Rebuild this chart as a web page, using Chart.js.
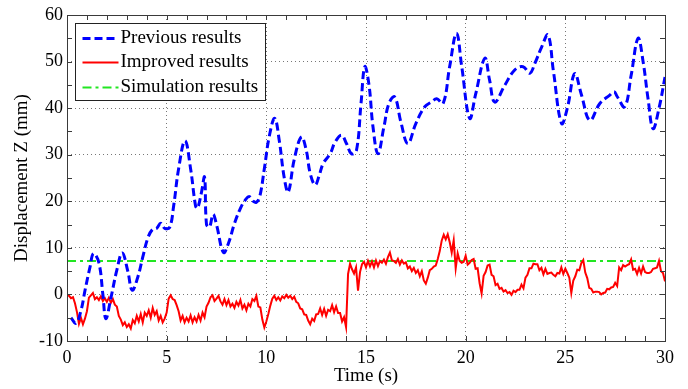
<!DOCTYPE html>
<html>
<head>
<meta charset="utf-8">
<script src="https://cdn.jsdelivr.net/npm/chart.js@4.4.1/dist/chart.umd.min.js"></script>
<style>
  html, body { margin: 0; padding: 0; background: #fff; }
  #wrap { position: relative; width: 688px; height: 389px; }
</style>
</head>
<body>
<div id="wrap"><canvas id="c"></canvas></div>
<script>
// ---------- data ----------
const seriesNames = ['Previous results', 'Improved results', 'Simulation results'];
const xTicksMinMax = [0, 30];
const yTicksMinMax = [-10, 60];

const previousTime = [0.2, 0.45, 0.7, 0.9, 1.15, 1.33, 1.6, 1.8, 1.95, 2.2, 2.5, 2.77, 3.05, 3.27, 3.55, 3.8, 4.07, 4.3, 4.5, 4.7, 4.9, 5.15, 5.35, 5.6, 5.92, 6.2, 6.45, 6.55, 6.75, 6.9, 7.0, 7.15, 7.33, 7.5, 7.85, 8.1, 8.4, 8.7, 8.95, 9.15, 9.35, 9.5, 9.67, 9.9, 10.15, 10.42, 10.65, 10.9, 11.1, 11.4, 11.76, 12.0, 12.2, 12.45, 12.65, 12.85, 13.2, 13.45, 13.77, 14.02, 14.27, 14.52, 14.75, 14.94, 15.15, 15.35, 15.6, 15.9, 16.15, 16.44, 16.75, 17.1, 17.5, 17.95, 18.28, 18.55, 18.87, 19.2, 19.54, 19.8, 20.2, 20.5, 20.96, 21.2, 21.46, 21.96, 22.46, 22.88, 23.22, 23.47, 23.8, 24.13, 24.4, 24.81, 25.1, 25.47, 25.8, 26.23, 26.73, 27.23, 27.45, 27.6, 27.98, 28.3, 28.65, 28.9, 29.15, 29.4, 29.7, 30.0];
const previousValue = [-5.0, -6.2, -3.5, 0.8, 5.8, 8.8, 6.8, 0, -5.2, -0.8, 5.2, 8.9, 5.0, 0.9, 3.7, 8.0, 12.3, 14.0, 14.2, 15.3, 14.2, 14.4, 19, 27, 33.0, 27, 19, 18.5, 22, 25.2, 15, 14.5, 17.2, 15, 9.0, 11, 15.2, 18.5, 20.3, 21, 20, 19.8, 21, 27, 34, 37.8, 33, 25, 22.0, 29, 33.8, 31, 26, 23.5, 25.5, 28.1, 30.2, 32.7, 34.2, 32.4, 30.2, 30.9, 41, 48.9, 45, 36, 30.2, 36, 41, 42.4, 37, 32.4, 36.7, 40.3, 41.3, 42, 41.0, 49, 56.1, 49, 37.8, 43, 50.7, 46, 41.3, 44.9, 48.2, 48.9, 47.5, 49.6, 53, 55.7, 48, 36.7, 40, 47.4, 43, 37.4, 41.0, 42.8, 43.5, 42.5, 40.3, 47, 55.0, 50, 42, 35.6, 40, 46.7];

// improved results sampled every 0.1 s from t = 0
const improvedStart = 0;
const improvedStep = 0.1;
const improvedValue = [
  0, -0.3, -0.8, -0.6, -1.9, -3.8, -6.3, -5.0, -6.4, -5.2,
  -3.6, -0.7, -0.2, 0.3, -1.0, -0.6, -1.2, -0.4, -1.4, -0.8,
  -1.6, -0.7, -1.8, -1.0, -2.2, -2.6, -4.6, -5.4, -6.6, -6.0,
  -7.0, -6.4, -7.3, -5.5, -6.2, -4.6, -5.8, -4.2, -6.0, -3.9,
  -4.6, -3.4, -5.0, -2.9, -4.4, -3.6, -5.6, -4.6, -6.0, -5.2,
  -3.9, -0.9, -0.2, -1.0, -1.2, -2.3, -3.6, -5.6, -4.6, -6.0,
  -5.0, -5.8, -4.5, -6.0, -4.9, -5.8, -4.4, -5.6, -3.9, -4.9,
  -2.6, -1.8, -0.6, -0.2, -1.4, -0.9, -0.3, -1.5, -2.2, -1.0,
  -2.3, -1.2, -2.6, -2.0, -2.9, -1.6, -2.4, -1.2, -3.0, -2.2,
  -3.4, -2.0, -2.6, -1.0, -1.4, -0.3, -2.6, -2.8, -5.4, -7.1,
  -5.8, -4.2, -2.4, -0.9, -0.3, -1.2, -0.6, -1.3, -0.4, -0.8,
  -0.1, -0.7, -0.3, -1.0, -0.5, -1.6, -1.9, -3.0, -3.2, -4.3,
  -4.4, -5.6, -6.4, -5.2, -5.7, -4.3, -4.2, -3.0, -4.4, -3.1,
  -4.6, -3.3, -3.6, -2.3, -3.8, -2.6, -4.0, -4.0, -5.8, -4.9,
  -7.0, 4.4, 6.6, 5.4, 4.5, 5.8, 0.8, 4.8, 6.5, 7.0,
  5.8, 7.2, 6.0, 7.1, 5.8, 7.3, 6.1, 7.2, 6.8, 7.5,
  6.6, 8.0, 9.0, 7.3, 7.2, 6.8, 7.6, 6.4, 7.3, 6.6,
  6.9, 5.6, 6.0, 5.0, 5.7, 4.6, 5.2, 3.9, 5.0, 3.0,
  2.3, 3.6, 5.2, 5.5, 6.0, 6.2, 7.6, 9.3, 11.6, 12.8,
  11.8, 12.9, 11.2, 9.0, 11.6, 5.6, 8.8, 7.2, 6.8, 7.0,
  8.3, 6.4, 6.8, 7.4, 7.6, 5.5, 5.6, 2.4, 0.2, 4.0,
  4.8, 6.2, 6.4, 4.2, 3.9, 2.0, 2.3, 1.2, 1.4, 0.6,
  0.9, 0.3, 0.5, -0.1, 0.8, 0.5, 1.0, 1.0, 2.1, 1.3,
  3.6, 4.2, 5.6, 5.6, 6.6, 6.5, 6.5, 5.2, 5.7, 4.3,
  5.5, 4.4, 4.6, 4.7, 4.2, 3.9, 4.6, 4.5, 5.8, 4.4,
  5.5, 4.6, 3.6, 0.3, 3.0, 3.9, 5.3, 5.2, 6.7, 7.4,
  4.7, 3.5, 1.4, 1.2, 0.4, 0.6, 0.6, 0.5, 0.0, 0.3,
  0.4, 1.2, 1.1, 1.5, 1.6, 2.5, 1.8, 5.8, 5.2, 6.3,
  6.0, 6.3, 6.5, 7.5, 5.3, 5.5, 4.4, 5.7, 4.5, 6.0,
  4.8, 4.6, 4.6, 4.8, 5.5, 5.6, 5.8, 7.2, 5.0, 4.6,
  2.8
];

const simulationTime = [0, 30];
const simulationValue = [7.2, 7.2];

// ---------- build ----------
const prevData = previousTime.map((t, i) => ({x: t, y: previousValue[i]}));
const impData = improvedValue.map((v, i) => ({x: +(improvedStart + i * improvedStep).toFixed(2), y: v}));
const simData = simulationTime.map((t, i) => ({x: t, y: simulationValue[i]}));

const FONT = "'Liberation Serif', 'Times New Roman', serif";
const AXIS_COLOR = '#3a3a3a';

const framePlugin = {
  id: 'frame',
  afterDatasetsDraw(chart) {
    const {ctx, chartArea: a, scales: {x, y}} = chart;
    const tl = 5;
    ctx.save();
    ctx.setLineDash([]);
    ctx.strokeStyle = AXIS_COLOR;
    ctx.lineWidth = 1;
    ctx.beginPath();
    for (let v = xTicksMinMax[0]; v <= xTicksMinMax[1]; v += 1) {
      const px = Math.round(x.getPixelForValue(v)) + 0.5;
      ctx.moveTo(px, a.bottom); ctx.lineTo(px, a.bottom - tl);
      ctx.moveTo(px, a.top); ctx.lineTo(px, a.top + tl);
    }
    for (let v = yTicksMinMax[0]; v <= yTicksMinMax[1]; v += 5) {
      const py = Math.round(y.getPixelForValue(v)) + 0.5;
      ctx.moveTo(a.left, py); ctx.lineTo(a.left + tl, py);
      ctx.moveTo(a.right, py); ctx.lineTo(a.right - tl, py);
    }
    ctx.stroke();
    ctx.strokeRect(Math.round(a.left) + 0.5, Math.round(a.top) + 0.5, Math.round(a.width), Math.round(a.height));
    ctx.restore();
  },
  afterDraw(chart) {
    const {ctx, chartArea: a} = chart;
    const bx = Math.round(a.left + 8) + 0.5, by = Math.round(a.top + 8) + 0.5;
    const bw = 190, bh = 77;
    ctx.save();
    ctx.fillStyle = '#fff';
    ctx.fillRect(bx, by, bw, bh);
    ctx.strokeStyle = '#222';
    ctx.lineWidth = 1;
    ctx.setLineDash([]);
    ctx.strokeRect(bx, by, bw, bh);
    const rows = [15, 39, 64];
    chart.data.datasets.forEach((ds, i) => {
      const yy = by + rows[i];
      ctx.strokeStyle = ds.borderColor;
      ctx.lineWidth = ds.borderWidth;
      ctx.setLineDash(ds.borderDash || []);
      ctx.beginPath();
      ctx.moveTo(bx + 7, yy);
      ctx.lineTo(bx + 43, yy);
      ctx.stroke();
      ctx.setLineDash([]);
      ctx.fillStyle = '#000';
      ctx.font = "19px " + FONT;
      ctx.textBaseline = 'middle';
      ctx.textAlign = 'left';
      ctx.fillText(ds.label, bx + 45, yy);
    });
    ctx.restore();
  }
};

new Chart(document.getElementById('c'), {
  type: 'line',
  data: {
    datasets: [
      {label: seriesNames[0], data: prevData, borderColor: '#0000ff', borderWidth: 3, borderDash: [8, 4],
       pointRadius: 0, tension: 0.4, fill: false},
      {label: seriesNames[1], data: impData, borderColor: '#ff0000', borderWidth: 2,
       pointRadius: 0, tension: 0, fill: false},
      {label: seriesNames[2], data: simData, borderColor: '#22e622', borderWidth: 2, borderDash: [9, 4, 3, 4],
       pointRadius: 0, tension: 0, fill: false}
    ]
  },
  options: {
    responsive: true,
    maintainAspectRatio: false,
    animation: false,
    events: [],
    layout: {padding: {top: 15, right: 23, left: 0, bottom: 0}},
    plugins: {legend: {display: false}, tooltip: {enabled: false}},
    scales: {
      x: {
        type: 'linear',
        min: xTicksMinMax[0], max: xTicksMinMax[1],
        ticks: {stepSize: 5, color: '#000', font: {family: FONT, size: 18}, padding: 6, maxRotation: 0},
        grid: {color: '#777', lineWidth: 1, drawTicks: false},
        border: {display: false, dash: [1, 3]},
        title: {display: true, text: 'Time (s)', color: '#000', font: {family: FONT, size: 19}, padding: {top: 0, bottom: 2}},
        afterFit: s => { s.height = 48; }
      },
      y: {
        type: 'linear',
        min: yTicksMinMax[0], max: yTicksMinMax[1],
        ticks: {stepSize: 10, color: '#000', font: {family: FONT, size: 18}, padding: 4},
        grid: {color: '#777', lineWidth: 1, drawTicks: false},
        border: {display: false, dash: [1, 3]},
        title: {display: true, text: 'Displacement Z (mm)', color: '#000', font: {family: FONT, size: 19}, padding: {top: 11, bottom: 0}},
        afterFit: s => { s.width = 67; }
      }
    }
  },
  plugins: [framePlugin]
});
</script>
</body>
</html>
